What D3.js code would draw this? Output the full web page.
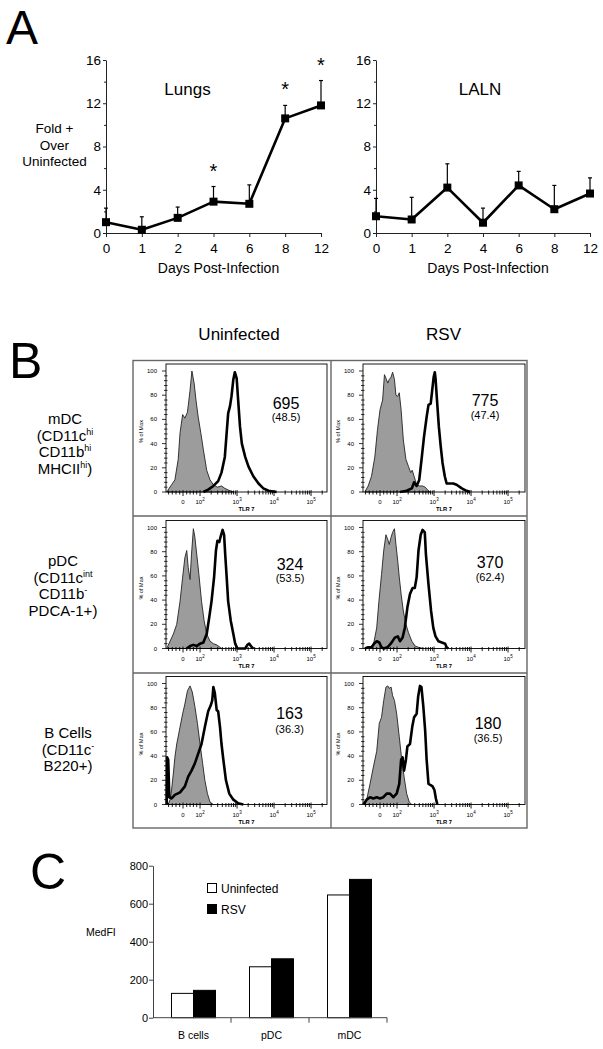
<!DOCTYPE html>
<html><head><meta charset="utf-8">
<script src="https://cdn.jsdelivr.net/npm/d3@7"></script>
<style>
body{margin:0;background:#fff}
svg{display:block}
text{font-family:"Liberation Sans",Arial,Helvetica,sans-serif;fill:#000}
.narrow{font-family:"Liberation Sans Narrow","Arial Narrow","Liberation Sans",sans-serif}
</style></head><body>
<svg id="c" width="603" height="1049"></svg>
<script>
// ---------- Panel A data ----------
const days = ["0","1","2","4","6","8","12"];
const lungsMean = [1.0, 0.3, 1.4, 2.9, 2.7, 10.6, 11.8];
const lungsErr  = [1.3, 1.2, 1.0, 1.4, 1.75, 1.2, 2.3];
const lungsSig  = [false, false, false, true, false, true, true];
const lalnMean  = [1.55, 1.25, 4.2, 0.95, 4.4, 2.2, 3.65];
const lalnErr   = [1.65, 2.05, 2.2, 1.35, 1.3, 2.2, 1.45];
const lalnSig   = [false, false, false, false, false, false, false];
const yTicksA = [0, 4, 8, 12, 16];
const yMinorA = [2, 6, 10, 14];

// ---------- Panel B data: [log-scale TLR7 fluorescence (decades), % of max] ----------
const mdcUninfCtrl = [[1.10,0],[1.23,6],[1.32,10],[1.41,27],[1.46,49],[1.53,64],[1.59,61],[1.66,66],[1.73,84],[1.78,100],[1.84,90],[1.89,76],[1.95,62],[2.02,49],[2.09,35],[2.18,18],[2.27,10],[2.36,6],[2.47,4],[2.58,5],[2.67,3],[2.81,1],[2.90,0]];
const mdcUninfTlr7 = [[2.09,0],[2.22,2],[2.36,5],[2.49,9],[2.58,16],[2.67,29],[2.72,49],[2.76,65],[2.81,71],[2.85,79],[2.90,93],[2.94,99],[2.99,94],[3.03,76],[3.08,54],[3.13,40],[3.22,29],[3.31,21],[3.44,13],[3.58,7],[3.71,3],[3.85,1],[4.07,0]];
const mdcRsvCtrl = [[1.13,0],[1.22,5],[1.31,13],[1.40,29],[1.47,51],[1.54,68],[1.61,76],[1.66,97],[1.70,94],[1.75,90],[1.79,93],[1.84,95],[1.88,99],[1.93,93],[1.97,80],[2.02,79],[2.06,82],[2.11,68],[2.17,43],[2.24,27],[2.31,21],[2.37,16],[2.41,18],[2.46,13],[2.53,6],[2.60,5],[2.69,5],[2.76,4],[2.85,1],[2.89,0]];
const mdcRsvTlr7 = [[2.08,0],[2.26,1],[2.40,3],[2.46,8],[2.53,5],[2.60,10],[2.67,29],[2.73,46],[2.80,62],[2.85,72],[2.91,73],[2.95,84],[2.99,95],[3.02,99],[3.04,94],[3.08,76],[3.13,54],[3.18,38],[3.23,24],[3.29,13],[3.34,7],[3.43,7],[3.52,7],[3.61,6],[3.75,3],[3.88,1],[3.97,0]];
const pdcUninfCtrl = [[1.10,0],[1.19,6],[1.28,12],[1.37,20],[1.46,39],[1.53,59],[1.59,75],[1.64,81],[1.68,67],[1.73,57],[1.77,78],[1.82,99],[1.86,92],[1.91,78],[1.97,61],[2.04,39],[2.11,23],[2.18,12],[2.27,6],[2.36,4],[2.45,3],[2.54,1],[2.58,0]];
const pdcUninfTlr7 = [[1.64,0],[1.73,2],[1.82,3],[1.91,2],[2.00,4],[2.09,5],[2.18,12],[2.25,26],[2.31,39],[2.38,59],[2.43,81],[2.47,89],[2.52,88],[2.57,94],[2.61,98],[2.65,94],[2.68,78],[2.72,59],[2.76,39],[2.83,23],[2.90,12],[2.95,4],[3.01,0],[3.22,0],[3.28,3],[3.33,4],[3.40,1],[3.44,0]];
const pdcRsvCtrl = [[1.31,0],[1.38,6],[1.45,17],[1.51,39],[1.58,61],[1.64,81],[1.70,94],[1.75,90],[1.79,86],[1.84,92],[1.88,96],[1.93,99],[1.97,86],[2.02,72],[2.06,59],[2.11,45],[2.17,31],[2.24,20],[2.31,13],[2.40,6],[2.49,2],[2.58,1],[2.71,0]];
const pdcRsvTlr7 = [[1.13,0],[1.22,1],[1.31,1],[1.38,4],[1.45,6],[1.52,5],[1.58,1],[1.64,0],[1.74,1],[1.83,4],[1.94,9],[2.02,10],[2.08,6],[2.15,9],[2.21,17],[2.28,34],[2.35,45],[2.42,50],[2.48,50],[2.53,59],[2.58,81],[2.64,94],[2.69,98],[2.75,96],[2.78,78],[2.85,53],[2.92,31],[2.98,17],[3.04,10],[3.12,6],[3.21,5],[3.30,4],[3.34,1],[3.39,0]];
const bcellUninfCtrl = [[1.14,0],[1.19,4],[1.23,12],[1.28,26],[1.32,39],[1.37,50],[1.46,64],[1.53,75],[1.59,83],[1.66,94],[1.73,98],[1.79,93],[1.86,81],[1.93,67],[2.00,50],[2.07,34],[2.13,20],[2.20,9],[2.27,2],[2.36,0]];
const bcellUninfTlr7 = [[1.10,0],[1.11,39],[1.14,37],[1.17,6],[1.23,5],[1.32,8],[1.46,10],[1.59,15],[1.68,23],[1.77,28],[1.86,34],[1.95,42],[2.04,50],[2.13,64],[2.22,77],[2.29,82],[2.33,86],[2.36,97],[2.40,92],[2.45,78],[2.49,77],[2.54,64],[2.58,50],[2.63,37],[2.70,20],[2.79,9],[2.90,4],[3.03,1],[3.17,0]];
const bcellRsvCtrl = [[1.13,0],[1.18,4],[1.27,17],[1.36,31],[1.45,44],[1.52,67],[1.58,72],[1.64,86],[1.70,97],[1.75,98],[1.79,96],[1.84,97],[1.88,90],[1.93,86],[1.99,75],[2.06,56],[2.12,39],[2.19,23],[2.26,9],[2.33,2],[2.40,0]];
const bcellRsvTlr7 = [[1.09,0],[1.18,4],[1.27,6],[1.36,5],[1.45,6],[1.54,5],[1.63,6],[1.72,9],[1.81,9],[1.90,6],[1.99,9],[2.06,17],[2.11,37],[2.15,39],[2.19,28],[2.24,37],[2.28,48],[2.35,50],[2.41,64],[2.46,72],[2.53,75],[2.57,89],[2.62,98],[2.66,97],[2.71,81],[2.76,61],[2.80,37],[2.85,17],[2.91,16],[2.96,15],[3.01,12],[3.05,5],[3.09,0]];
const mfiValues = [695, 775, 324, 370, 163, 180];
const cvValues  = ["48.5", "47.4", "53.5", "62.4", "36.3", "36.5"];
const histXMajor = [[1.54,"0",""],[2,"10","2"],[3,"10","3"],[4,"10","4"],[5,"10","5"]];
const histYTicks = [0, 20, 40, 60, 80, 100];

// ---------- Panel C data ----------
const cellTypes = ["B cells", "pDC", "mDC"];
const groups = ["Uninfected", "RSV"];
const uninfMedFI = [128, 268, 646];
const rsvMedFI   = [144, 310, 728];
const yTicksC = [0, 200, 400, 600, 800];

const svg = d3.select("#c");

// Panel letters
svg.append("text").attr("x", 6).attr("y", 44).attr("font-size", 48).text("A");
svg.append("text").attr("x", 9).attr("y", 378).attr("font-size", 50).text("B");
svg.append("text").attr("x", 30).attr("y", 889).attr("font-size", 50).text("C");

// ---------- Panel A ----------
function styleAxis(g, fs) {
  g.attr("font-family", null).attr("font-size", null);
  g.selectAll("text").attr("font-size", fs).attr("fill", "#000");
  g.selectAll("path,line").attr("stroke", "#222").attr("stroke-width", 1);
}
function drawLine(xr, mean, err, sig, title, titleX) {
  const x = d3.scalePoint().domain(days).range(xr);
  const y = d3.scaleLinear().domain([0, 16]).range([233, 60]);
  const g = svg.append("g");
  g.append("g").attr("transform", `translate(${xr[0]},0)`)
    .call(d3.axisLeft(y).tickValues(yTicksA).tickSize(3).tickPadding(2).tickSizeOuter(0))
    .call(a => styleAxis(a, 13.5));
  g.append("g").attr("transform", `translate(${xr[0]},0)`)
    .call(d3.axisLeft(y).tickValues(yMinorA).tickSize(2).tickFormat("").tickSizeOuter(0))
    .call(a => styleAxis(a, 13.5)).select(".domain").remove();
  g.append("g").attr("transform", `translate(0,${y(0)})`)
    .call(d3.axisBottom(x).tickSize(4).tickPadding(6).tickSizeOuter(0))
    .call(a => styleAxis(a, 13.5));
  // error bars (upper)
  days.forEach((d, i) => {
    const top = y(mean[i] + err[i]);
    g.append("line").attr("x1", x(d)).attr("x2", x(d)).attr("y1", y(mean[i])).attr("y2", top)
      .attr("stroke", "#000").attr("stroke-width", 1.2);
    g.append("line").attr("x1", x(d) - 2).attr("x2", x(d) + 2).attr("y1", top).attr("y2", top)
      .attr("stroke", "#000").attr("stroke-width", 1.2);
    if (sig[i]) g.append("text").attr("x", x(d)).attr("y", top - 9).attr("text-anchor", "middle")
      .attr("font-size", 20).text("*");
  });
  g.append("path").datum(mean)
    .attr("d", d3.line().x((v, i) => x(days[i])).y(v => y(v)))
    .attr("fill", "none").attr("stroke", "#000").attr("stroke-width", 2.6).attr("stroke-linejoin", "round");
  g.selectAll("rect.m").data(mean).join("rect")
    .attr("x", (v, i) => x(days[i]) - 4).attr("y", v => y(v) - 4)
    .attr("width", 8).attr("height", 8).attr("fill", "#000");
  g.append("text").attr("x", titleX).attr("y", 94.5).attr("text-anchor", "middle").attr("font-size", 17).text(title);
  g.append("text").attr("x", (xr[0] + xr[1]) / 2 + 5).attr("y", 273).attr("text-anchor", "middle")
    .attr("font-size", 14).text("Days Post-Infection");
}
drawLine([106, 321], lungsMean, lungsErr, lungsSig, "Lungs", 187.5);
drawLine([376, 590], lalnMean, lalnErr, lalnSig, "LALN", 480);
["Fold +", "Over", "Uninfected"].forEach((t, i) => {
  svg.append("text").attr("class", "narrow").attr("x", 54.5).attr("y", 133 + i * 16.5)
    .attr("text-anchor", "middle").attr("font-size", 13.5).text(t);
});

// ---------- Panel B ----------
// table grid
const grid = svg.append("g").attr("stroke", "#666").attr("stroke-width", 1.4).attr("fill", "none");
grid.append("rect").attr("x", 133).attr("y", 360.5).attr("width", 394).attr("height", 467.5);
grid.append("line").attr("x1", 331).attr("x2", 331).attr("y1", 360.5).attr("y2", 828);
grid.append("line").attr("x1", 133).attr("x2", 527).attr("y1", 516).attr("y2", 516);
grid.append("line").attr("x1", 133).attr("x2", 527).attr("y1", 673).attr("y2", 673);

svg.append("text").attr("x", 239).attr("y", 340).attr("text-anchor", "middle").attr("font-size", 17).text("Uninfected");
svg.append("text").attr("x", 443.5).attr("y", 340).attr("text-anchor", "middle").attr("font-size", 17).text("RSV");

// row labels: arrays of lines, each line = list of [text, superscript?]
const rowLabels = [
  {x: 65, y: 424, lines: [[["mDC", 0]], [["(CD11c", 0], ["hi", 1]], [["CD11b", 0], ["hi", 1]], [["MHCII", 0], ["hi", 1], [")", 0]]]},
  {x: 63, y: 566, lines: [[["pDC", 0]], [["(CD11c", 0], ["int", 1]], [["CD11b", 0], ["-", 1]], [["PDCA-1+)", 0]]]},
  {x: 68, y: 738, lines: [[["B Cells", 0]], [["(CD11c", 0], ["-", 1]], [["B220+)", 0]]]}
];
rowLabels.forEach(r => {
  r.lines.forEach((ln, i) => {
    const t = svg.append("text").attr("x", r.x).attr("y", r.y + i * 16.5).attr("text-anchor", "middle").attr("font-size", 15);
    let up = false;
    ln.forEach(([s, sup]) => {
      const ts = t.append("tspan").text(s);
      if (sup && !up) { ts.attr("font-size", 9).attr("dy", -6); up = true; }
      else if (sup) { ts.attr("font-size", 9); }
      else if (up) { ts.attr("dy", 6); up = false; }
    });
  });
});

const cells = [
  {ctrl: mdcUninfCtrl, tlr: mdcUninfTlr7},
  {ctrl: mdcRsvCtrl, tlr: mdcRsvTlr7},
  {ctrl: pdcUninfCtrl, tlr: pdcUninfTlr7},
  {ctrl: pdcRsvCtrl, tlr: pdcRsvTlr7},
  {ctrl: bcellUninfCtrl, tlr: bcellUninfTlr7},
  {ctrl: bcellRsvCtrl, tlr: bcellRsvTlr7}
];
// layout of each histogram frame and its labels
const colLeft = [166, 363], colWidth = [161, 162];
const rowTop = [364, 520.5, 676.5];
const labelPos = [[120, 45, 57], [122, 42, 55], [124, 49, 61], [127, 47, 60], [123.5, 42, 56], [125, 52, 65]];

cells.forEach((c, k) => {
  const col = k % 2, row = Math.floor(k / 2);
  const L = colLeft[col], W = colWidth[col], T = rowTop[row], H = 128;
  const x = d3.scaleLinear().domain([1.08, 1.08 + W / 37]).range([L, L + W]);
  const y = d3.scaleLinear().domain([0, 100]).range([T + H, T + 7]);
  const g = svg.append("g");
  // gray control
  g.append("path").datum(c.ctrl)
    .attr("d", d3.area().x(d => x(d[0])).y0(y(0)).y1(d => y(d[1])))
    .attr("fill", "#9c9c9c").attr("stroke", "#222").attr("stroke-width", 0.9);
  // TLR7 black outline
  g.append("path").datum(c.tlr)
    .attr("d", d3.line().x(d => x(d[0])).y(d => y(d[1])))
    .attr("fill", "none").attr("stroke", "#000").attr("stroke-width", 2.6).attr("stroke-linejoin", "round");
  // frame
  g.append("rect").attr("x", L).attr("y", T).attr("width", W).attr("height", H)
    .attr("fill", "none").attr("stroke", "#000").attr("stroke-width", 0.9);
  // y ticks
  const yMinor = d3.range(0, 101, 4).filter(v => v % 20 !== 0);
  g.selectAll("line.yt").data(histYTicks).join("line")
    .attr("x1", L - 4).attr("x2", L).attr("y1", d => y(d)).attr("y2", d => y(d)).attr("stroke", "#000").attr("stroke-width", 0.8);
  g.selectAll("line.ym").data(yMinor).join("line")
    .attr("x1", L - 2).attr("x2", L + 1.5).attr("y1", d => y(d)).attr("y2", d => y(d)).attr("stroke", "#000").attr("stroke-width", 0.8);
  g.selectAll("text.yl").data(histYTicks).join("text")
    .attr("x", L - 9).attr("y", d => y(d) + 2).attr("text-anchor", "end").attr("font-size", 6).attr("fill", "#333").text(d => d);
  g.append("text").attr("transform", `translate(${L - 23},${y(50)}) rotate(-90)`)
    .attr("text-anchor", "middle").attr("font-size", 5.5).attr("fill", "#333").text("% of Max");
  // x ticks
  const minor = [1.15, 1.25, 1.35, 1.45, 1.64, 1.73, 1.82, 1.91];
  [2, 3, 4].forEach(n => d3.range(2, 10).forEach(m => minor.push(n + Math.log10(m))));
  minor.push(5 + Math.log10(2));
  g.selectAll("line.xm").data(minor.filter(v => x(v) <= L + W)).join("line")
    .attr("x1", d => x(d)).attr("x2", d => x(d)).attr("y1", T + H - 1.5).attr("y2", T + H + 2.5).attr("stroke", "#000").attr("stroke-width", 0.9);
  g.selectAll("line.xM").data(histXMajor).join("line")
    .attr("x1", d => x(d[0])).attr("x2", d => x(d[0])).attr("y1", T + H - 2).attr("y2", T + H + 4).attr("stroke", "#000").attr("stroke-width", 0.9);
  const xl = g.selectAll("text.xl").data(histXMajor).join("text")
    .attr("x", d => x(d[0])).attr("y", T + H + 12).attr("text-anchor", "middle").attr("font-size", 6).attr("fill", "#333");
  xl.append("tspan").text(d => d[1]);
  xl.append("tspan").attr("dy", -3).attr("font-size", 4.5).text(d => d[2]);
  g.append("text").attr("x", L + W / 2).attr("y", T + H + 19).attr("text-anchor", "middle")
    .attr("font-size", 5.8).attr("font-weight", "bold").attr("fill", "#333").text("TLR 7");
  // MFI and CV labels
  const p = labelPos[k];
  g.append("text").attr("x", L + p[0]).attr("y", T + p[1]).attr("text-anchor", "middle").attr("font-size", 16).text(mfiValues[k]);
  g.append("text").attr("x", L + p[0]).attr("y", T + p[2]).attr("text-anchor", "middle").attr("font-size", 11).text("(" + cvValues[k] + ")");
});

// ---------- Panel C ----------
{
  const x0 = d3.scaleBand().domain(cellTypes).range([153, 387]);
  const x1 = d3.scaleBand().domain(groups).range([18.5, 62.5]);
  const y = d3.scaleLinear().domain([0, 800]).range([1017.7, 865.7]);
  const g = svg.append("g");
  const vals = {Uninfected: uninfMedFI, RSV: rsvMedFI};
  cellTypes.forEach((c, i) => {
    groups.forEach(s => {
      const v = vals[s][i];
      g.append("rect").attr("x", x0(c) + x1(s)).attr("y", y(v)).attr("width", x1.bandwidth()).attr("height", y(0) - y(v))
        .attr("fill", s === "RSV" ? "#000" : "#fff").attr("stroke", "#000").attr("stroke-width", 1);
    });
  });
  g.append("g").attr("transform", "translate(153,0)")
    .call(d3.axisLeft(y).tickValues(yTicksC).tickSize(4).tickPadding(1).tickSizeOuter(0))
    .call(a => { styleAxis(a, 11); a.selectAll("path,line").attr("stroke", "#444"); });
  g.append("line").attr("x1", 153).attr("x2", 387).attr("y1", y(0)).attr("y2", y(0)).attr("stroke", "#444");
  cellTypes.forEach(c => {
    const xe = x0(c) + x0.bandwidth();
    g.append("line").attr("x1", xe).attr("x2", xe).attr("y1", y(0)).attr("y2", y(0) + 5).attr("stroke", "#444");
    g.append("text").attr("x", x0(c) + x0.bandwidth() / 2 + 1.5).attr("y", 1039).attr("text-anchor", "middle")
      .attr("font-size", 10.5).text(c);
  });
  g.append("text").attr("x", 86).attr("y", 935.5).attr("font-size", 10.5).text("MedFI");
  groups.forEach((s, i) => {
    g.append("rect").attr("x", 207.5).attr("y", 883.5 + i * 21).attr("width", 9).attr("height", 9)
      .attr("fill", s === "RSV" ? "#000" : "#fff").attr("stroke", "#000").attr("stroke-width", 1);
    g.append("text").attr("x", 221).attr("y", 892.5 + i * 21).attr("font-size", 12).text(s);
  });
}
</script>
</body></html>
